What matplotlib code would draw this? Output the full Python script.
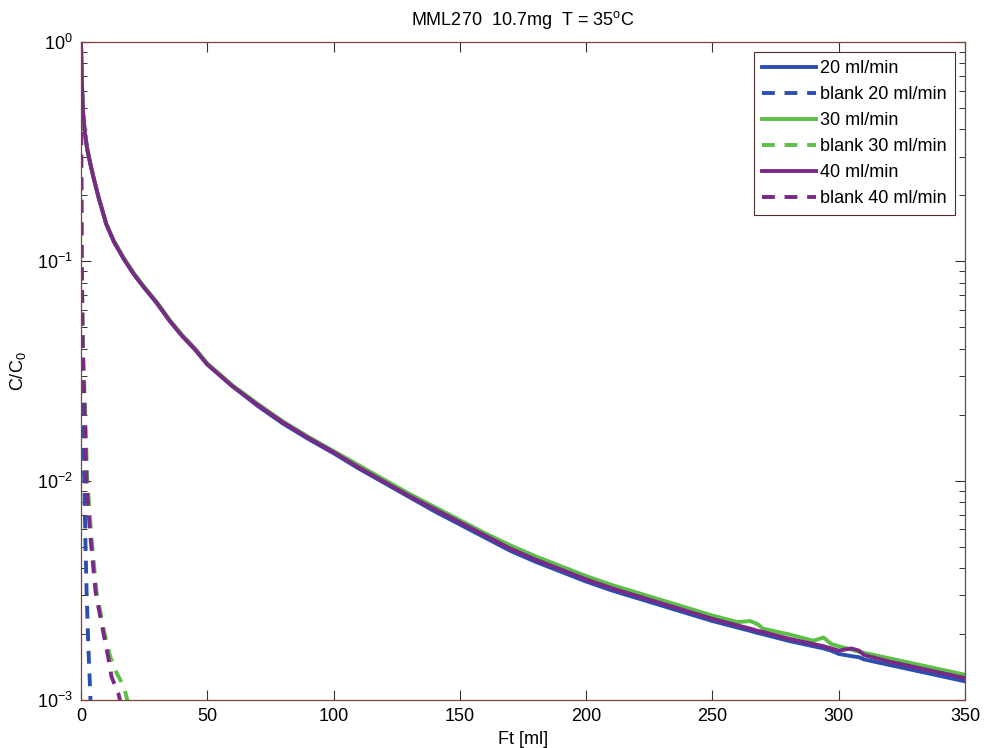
import matplotlib
matplotlib.use("Agg")
import matplotlib.pyplot as plt
from matplotlib.ticker import LogLocator, NullLocator
import numpy as np

plt.rcParams['font.family'] = ['Liberation Sans', 'DejaVu Sans']
plt.rcParams['mathtext.fontset'] = 'custom'
plt.rcParams['mathtext.rm'] = 'Liberation Sans'
plt.rcParams['mathtext.it'] = 'Liberation Sans:italic'
plt.rcParams['mathtext.default'] = 'regular'

# Ft [ml] grid for the breakthrough curves
ft = [0, 0.3, 0.8, 1.5, 2.5, 3.6, 5, 7, 10, 13, 17, 21, 25, 30, 35, 40, 45, 50,
      60, 70, 80, 90, 100, 110, 120, 130, 140, 150, 160, 170, 180, 190, 200,
      210, 220, 230, 240, 250, 260, 265, 268, 270, 280, 290, 294, 297, 300,
      305, 308, 310, 320, 330, 340, 350]

# log10(C/C0)
log_20 = [0, -0.17, -0.32, -0.41, -0.49, -0.55, -0.62, -0.71, -0.83, -0.91, -0.99,
          -1.06, -1.12, -1.19, -1.27, -1.34, -1.40, -1.47,
          -1.57, -1.66, -1.74, -1.81, -1.875, -1.945, -2.01, -2.075, -2.14, -2.20,
          -2.26, -2.32, -2.37, -2.415, -2.46, -2.50, -2.535, -2.57, -2.605, -2.64,
          -2.67, -2.685, -2.695, -2.70, -2.73, -2.755, -2.765, -2.775, -2.79,
          -2.80, -2.805, -2.815, -2.84, -2.865, -2.89, -2.915]
log_30 = [0, -0.17, -0.32, -0.41, -0.49, -0.55, -0.62, -0.71, -0.83, -0.905, -0.985,
          -1.055, -1.115, -1.185, -1.265, -1.335, -1.395, -1.465,
          -1.565, -1.65, -1.73, -1.80, -1.865, -1.93, -1.995, -2.06, -2.12, -2.18,
          -2.24, -2.295, -2.345, -2.39, -2.435, -2.475, -2.51, -2.545, -2.58, -2.615,
          -2.645, -2.64, -2.655, -2.675, -2.70, -2.73, -2.715, -2.745, -2.755,
          -2.77, -2.78, -2.785, -2.81, -2.835, -2.86, -2.885]
log_40 = [0, -0.17, -0.32, -0.41, -0.49, -0.55, -0.62, -0.71, -0.83, -0.91, -0.99,
          -1.06, -1.12, -1.19, -1.27, -1.34, -1.40, -1.47,
          -1.57, -1.655, -1.735, -1.805, -1.87, -1.94, -2.005, -2.07, -2.13, -2.19,
          -2.25, -2.31, -2.36, -2.405, -2.45, -2.49, -2.525, -2.56, -2.595, -2.63,
          -2.66, -2.675, -2.685, -2.69, -2.72, -2.745, -2.755, -2.765, -2.775,
          -2.765, -2.775, -2.795, -2.825, -2.85, -2.875, -2.90]

# blank runs
ft_b20 = [0, 0.05, 0.1, 0.2, 0.4, 0.8, 1.3, 1.8, 2.2, 2.9, 3.6, 3.9]
log_b20 = [0, -0.4, -0.8, -1.2, -1.6, -1.85, -2.0, -2.3, -2.5, -2.75, -2.95, -3.05]
ft_b30 = [0, 0.1, 0.3, 0.8, 1.5, 2.5, 4.0, 6.2, 9.2, 11.5, 14.1, 17.0, 19.0]
log_b30 = [0, -0.5, -1.0, -1.4, -1.63, -2.0, -2.24, -2.51, -2.69, -2.80, -2.877, -2.94, -3.03]
ft_b40 = [0, 0.1, 0.3, 0.7, 1.3, 2.2, 3.6, 5.8, 8.8, 10.7, 12.1, 14.8, 16.5]
log_b40 = [0, -0.5, -1.0, -1.4, -1.63, -2.0, -2.24, -2.51, -2.69, -2.80, -2.895, -2.97, -3.05]

c_blue = '#2b4fae'
c_green = '#5cc046'
c_purple = '#7a2a86'
spine_col = '#7a4536'
fs = 13

fig = plt.figure(figsize=(9.84, 7.48), dpi=100)
ax = fig.add_axes([0.0823, 0.0642, 0.8984, 0.8797])

lw = 2.8
dash = (3.3, 2.5)
ax.plot(ft, 10 ** np.array(log_20), color=c_blue, lw=lw, label='20 ml/min')
ax.plot(ft_b20, 10 ** np.array(log_b20), color=c_blue, lw=lw, dashes=dash, label='blank 20 ml/min')
ax.plot(ft, 10 ** np.array(log_30), color=c_green, lw=lw, label='30 ml/min')
ax.plot(ft_b30, 10 ** np.array(log_b30), color=c_green, lw=lw, dashes=dash, label='blank 30 ml/min')
ax.plot(ft, 10 ** np.array(log_40), color=c_purple, lw=lw, label='40 ml/min')
ax.plot(ft_b40, 10 ** np.array(log_b40), color=c_purple, lw=lw, dashes=dash, label='blank 40 ml/min')

ax.set_yscale('log')
ax.set_xlim(0, 350)
ax.set_ylim(1e-3, 1)
ax.set_xticks([0, 50, 100, 150, 200, 250, 300, 350])
ax.xaxis.set_minor_locator(NullLocator())
ax.yaxis.set_major_locator(LogLocator(base=10, numticks=10))
ax.yaxis.set_minor_locator(LogLocator(base=10, subs=np.arange(2, 10), numticks=10))

ax.tick_params(which='both', direction='in', top=True, right=True,
               labelsize=fs, color='#333333')
ax.tick_params(which='major', length=7, width=0.8, pad=6)
ax.tick_params(which='minor', length=4, width=0.7)
for s in ax.spines.values():
    s.set_color(spine_col)
    s.set_linewidth(0.9)

ax.set_xlabel('Ft [ml]', fontsize=fs, labelpad=4)
ax.set_ylabel('C/C$_0$', fontsize=fs, labelpad=6)
ax.set_title('MML270  10.7mg  T = 35$^o$C', fontsize=fs, pad=12)

leg = ax.legend(loc='upper right', fontsize=fs, frameon=True, fancybox=False,
                framealpha=1, edgecolor='#4a3028', handlelength=3.0,
                handletextpad=0.25, labelspacing=0.5, borderpad=0.45,
                borderaxespad=0.55)
leg.get_frame().set_linewidth(0.8)

fig.savefig('out.png', dpi=100)
